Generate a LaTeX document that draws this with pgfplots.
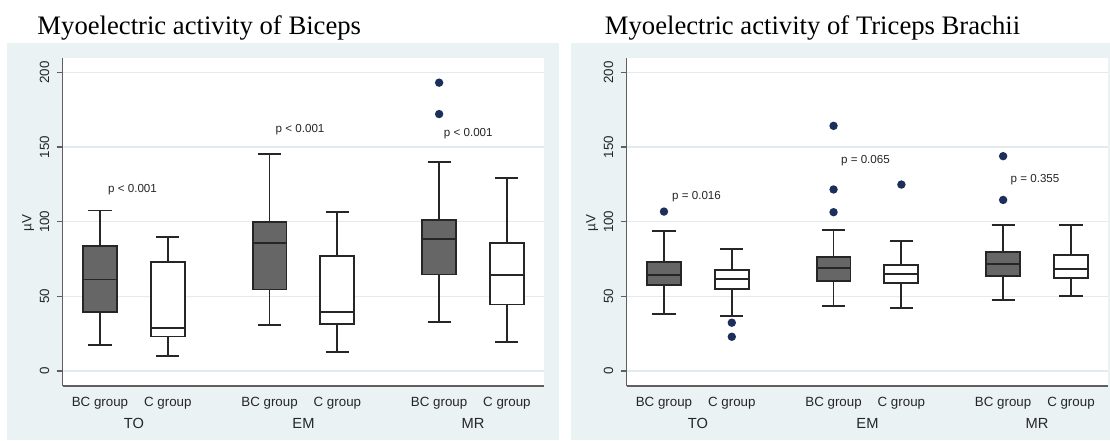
\documentclass[border=0pt]{standalone}
\usepackage{fontspec}
\setmainfont{Liberation Sans}
\newfontfamily\titlefont{Liberation Serif}
\usepackage{pgfplots}
\pgfplotsset{compat=1.18}
\usepgfplotslibrary{statistics}

\definecolor{panelbg}{RGB}{234,242,243}
\definecolor{gridc}{RGB}{226,236,238}
\definecolor{boxgray}{RGB}{102,102,102}
\definecolor{linec}{RGB}{38,38,38}
\definecolor{outl}{RGB}{28,46,90}
\definecolor{axisc}{RGB}{95,95,95}

\tikzset{
  plabel/.style={font=\fontsize{8.7}{10}\selectfont, text=linec},
  grplabel/.style={anchor=base, font=\fontsize{11}{13}\selectfont, text=linec, yshift=-32pt},
}

\pgfplotsset{
  statapanel/.style={
    width=361.2pt, height=245.55pt, scale only axis,
    xmin=-0.55, xmax=6.55, ymin=-9.8, ymax=209.4,
    clip=false,
    axis background/.style={fill=white},
    axis x line*=bottom, axis y line*=left,
    axis line style={axisc, line width=1.2pt, -},
    ymajorgrids, grid style={gridc, line width=1pt},
    ytick={0,50,100,150,200},
    xtick={0,1,2.5,3.5,5,6},
    xticklabels={BC group, C group, BC group, C group, BC group, C group},
    tick align=outside,
    major tick length=4.5pt,
    ytick style={axisc, line width=1pt},
    xtick style={draw=none},
    /pgf/number format/assume math mode=true,
    tick label style={font=\fontsize{10}{12}\selectfont, text=linec},
    yticklabel style={rotate=90, anchor=south},
    yticklabel shift=2pt,
    xticklabel style={anchor=base, yshift=-10.7pt},
  },
  bcbox/.style={draw=linec, line width=1.4pt, fill=boxgray,
    mark=*, mark size=2.4pt, mark options={fill=outl, draw=outl}},
  cbox/.style={draw=linec, line width=1.4pt, fill=white,
    mark=*, mark size=2.4pt, mark options={fill=outl, draw=outl}},
  boxplot/draw direction=y,
  boxplot/box extend=0.5,
  boxplot/whisker extend=0.34,
}

\begin{document}
\begin{tikzpicture}
\fill[panelbg] (5.25pt,0pt) rectangle (419.25pt,297.75pt);
\fill[panelbg] (428.25pt,0pt) rectangle (832.5pt,297.75pt);

% Biceps
\begin{axis}[statapanel, at={(47pt,40.7pt)}, anchor=south west]
\addplot[bcbox, boxplot prepared={draw position=0, draw direction=y, lower whisker=17.4, lower quartile=39.7, median=61.3, upper quartile=83.8, upper whisker=107.5}] coordinates {};
\addplot[cbox, boxplot prepared={draw position=1, draw direction=y, lower whisker=10.0, lower quartile=23.2, median=28.8, upper quartile=72.9, upper whisker=89.9}] coordinates {};
\addplot[bcbox, boxplot prepared={draw position=2.5, draw direction=y, lower whisker=30.8, lower quartile=54.6, median=85.8, upper quartile=100.1, upper whisker=145.6}] coordinates {};
\addplot[cbox, boxplot prepared={draw position=3.5, draw direction=y, lower whisker=12.9, lower quartile=31.4, median=39.5, upper quartile=77.1, upper whisker=106.4}] coordinates {};
\addplot[bcbox, boxplot prepared={draw position=5, draw direction=y, lower whisker=32.6, lower quartile=64.7, median=88.5, upper quartile=101.0, upper whisker=140.0}] table[row sep=\\, y index=0] {193.1\\ 172.1\\};
\addplot[cbox, boxplot prepared={draw position=6, draw direction=y, lower whisker=19.4, lower quartile=44.6, median=64.4, upper quartile=85.8, upper whisker=129.5}] coordinates {};
\node[plabel] at (axis cs:0.48,121.3) {p < 0.001};
\node[plabel] at (axis cs:2.95,161.4) {p < 0.001};
\node[plabel] at (axis cs:5.43,158.7) {p < 0.001};
\node[grplabel] at (axis cs:0.5,-9.8) {TO};
\node[grplabel] at (axis cs:3,-9.8) {EM};
\node[grplabel] at (axis cs:5.5,-9.8) {MR};
\end{axis}

% Triceps Brachii
\begin{axis}[statapanel, at={(470pt,40.7pt)}, anchor=south west]
\addplot[bcbox, boxplot prepared={draw position=0, draw direction=y, lower whisker=38.4, lower quartile=57.9, median=64.4, upper quartile=72.8, upper whisker=93.6}] table[row sep=\\, y index=0] {106.8\\};
\addplot[cbox, boxplot prepared={draw position=1, draw direction=y, lower whisker=36.6, lower quartile=54.7, median=61.9, upper quartile=67.5, upper whisker=82.0}] table[row sep=\\, y index=0] {32.4\\ 23.0\\};
\addplot[bcbox, boxplot prepared={draw position=2.5, draw direction=y, lower whisker=43.8, lower quartile=60.1, median=68.8, upper quartile=76.6, upper whisker=94.7}] table[row sep=\\, y index=0] {164.2\\ 121.6\\ 106.4\\};
\addplot[cbox, boxplot prepared={draw position=3.5, draw direction=y, lower whisker=42.0, lower quartile=58.8, median=64.8, upper quartile=71.3, upper whisker=86.9}] table[row sep=\\, y index=0] {124.9\\};
\addplot[bcbox, boxplot prepared={draw position=5, draw direction=y, lower whisker=47.4, lower quartile=63.7, median=71.5, upper quartile=80.0, upper whisker=97.9}] table[row sep=\\, y index=0] {143.9\\ 114.6\\};
\addplot[cbox, boxplot prepared={draw position=6, draw direction=y, lower whisker=50.5, lower quartile=62.1, median=68.4, upper quartile=77.5, upper whisker=97.9}] coordinates {};
\node[plabel] at (axis cs:0.48,116.5) {p = 0.016};
\node[plabel] at (axis cs:2.97,141.2) {p = 0.065};
\node[plabel] at (axis cs:5.47,128.5) {p = 0.355};
\node[grplabel] at (axis cs:0.5,-9.8) {TO};
\node[grplabel] at (axis cs:3,-9.8) {EM};
\node[grplabel] at (axis cs:5.5,-9.8) {MR};
\end{axis}

\node[rotate=90, font=\fontsize{10}{12}\selectfont, text=linec] at (21.2pt,162.75pt) {µV};
\node[rotate=90, font=\fontsize{10}{12}\selectfont, text=linec] at (444.1pt,162.75pt) {µV};

\node[anchor=base west, inner sep=0pt, font=\titlefont\fontsize{20}{24}\selectfont] at (27.9pt,304pt) {Myoelectric activity of Biceps};
\node[anchor=base west, inner sep=0pt, font=\titlefont\fontsize{20}{24}\selectfont] at (453.5pt,304pt) {Myoelectric activity of Triceps Brachii};

\pgfresetboundingbox
\path (0pt,0pt) rectangle (832.5pt,330pt);
\end{tikzpicture}
\end{document}
